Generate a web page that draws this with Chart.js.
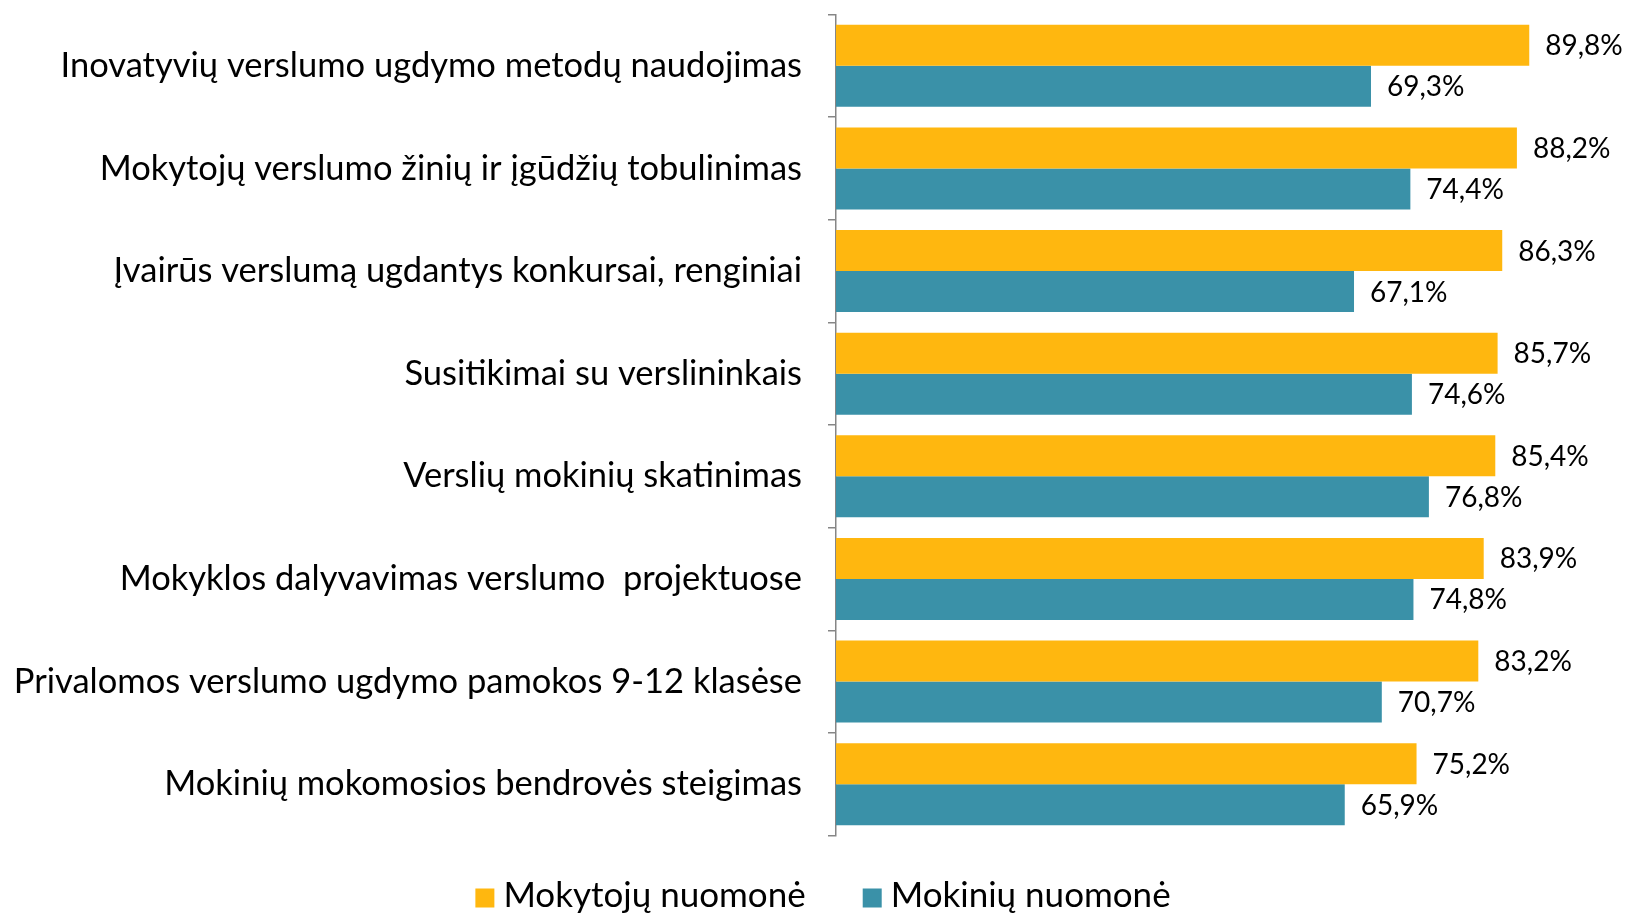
<!DOCTYPE html>
<html>
<head>
<meta charset="utf-8">
<script src="https://cdn.jsdelivr.net/npm/chart.js@4.4.1/dist/chart.umd.min.js"></script>
<style>
  html, body { margin: 0; padding: 0; background: #fff; overflow: hidden; }
  #wrap { width: 1627px; height: 914px; }
</style>
</head>
<body>
<div id="wrap"><canvas id="myBarChart" width="1627" height="914"></canvas></div>
<script>
// categories and values
const categories = [
  'Inovatyvių verslumo ugdymo metodų naudojimas',
  'Mokytojų verslumo žinių ir įgūdžių tobulinimas',
  'Įvairūs verslumą ugdantys konkursai, renginiai',
  'Susitikimai su verslininkais',
  'Verslių mokinių skatinimas',
  'Mokyklos dalyvavimas verslumo  projektuose',
  'Privalomos verslumo ugdymo pamokos 9-12 klasėse',
  'Mokinių mokomosios bendrovės steigimas'
];
const teachers = [89.8, 88.2, 86.3, 85.7, 85.4, 83.9, 83.2, 75.2];
const students = [69.3, 74.4, 67.1, 74.6, 76.8, 74.8, 70.7, 65.9];
const seriesNames = ['Mokytojų nuomonė', 'Mokinių nuomonė'];
const colors = ['#FFB70F', '#3A91A8'];

const FONT = 'Lato, "Open Sans", sans-serif';

// value labels at the end of each bar
const valueLabels = {
  id: 'valueLabels',
  afterDatasetsDraw(chart) {
    const ctx = chart.ctx;
    ctx.save();
    ctx.font = '28px ' + FONT;
    ctx.fillStyle = '#000';
    ctx.textBaseline = 'middle';
    ctx.textAlign = 'left';
    chart.data.datasets.forEach((ds, i) => {
      chart.getDatasetMeta(i).data.forEach((bar, j) => {
        const txt = ds.data[j].toFixed(1).replace('.', ',') + '%';
        ctx.fillText(txt, bar.x + 16, bar.y + 1);
      });
    });
    ctx.restore();
  }
};

// legend under the plot, centred like the original
const bottomLegend = {
  id: 'bottomLegend',
  afterDraw(chart) {
    const ctx = chart.ctx;
    const box = 19, gap = 9, itemGap = 57, midY = 898;
    ctx.save();
    ctx.font = '35px ' + FONT;
    ctx.textBaseline = 'middle';
    ctx.textAlign = 'left';
    const items = chart.data.datasets.map(ds => ({
      text: ds.label, color: ds.backgroundColor, w: ctx.measureText(ds.label).width
    }));
    let total = items.reduce((s, it) => s + box + gap + it.w, 0) + itemGap * (items.length - 1);
    let x = 823 - total / 2;
    items.forEach(it => {
      ctx.fillStyle = it.color;
      ctx.fillRect(x, midY - box / 2, box, box);
      ctx.fillStyle = '#000';
      ctx.fillText(it.text, x + box + gap, midY - 2);
      x += box + gap + it.w + itemGap;
    });
    ctx.restore();
  }
};

const barCtx = document.getElementById('myBarChart').getContext('2d');
const myBarChart = new Chart(barCtx, {
  type: 'bar',
  data: {
    labels: categories,
    datasets: [{
      label: seriesNames[0],
      data: teachers,
      backgroundColor: colors[0],
      barPercentage: 1.0,
      categoryPercentage: 0.8
    }, {
      label: seriesNames[1],
      data: students,
      backgroundColor: colors[1],
      barPercentage: 1.0,
      categoryPercentage: 0.8
    }]
  },
  options: {
    indexAxis: 'y',
    responsive: false,
    animation: false,
    layout: { padding: { top: 14.5, right: 19, left: 0, bottom: 78.5 } },
    scales: {
      x: {
        display: false,
        min: 0,
        max: 100
      },
      y: {
        afterFit: (scale) => {
          scale.width = 836;
          scale.paddingTop = 0;
          scale.paddingBottom = 0;
        },
        border: { display: true, color: '#868686', width: 1.5 },
        grid: {
          offset: true,
          drawOnChartArea: false,
          tickLength: 8,
          color: '#868686',
          lineWidth: 1.5
        },
        ticks: {
          color: '#000',
          padding: 26,
          font: { family: FONT, size: 34.5 }
        }
      }
    },
    plugins: {
      legend: { display: false },
      tooltip: { enabled: false }
    }
  },
  plugins: [valueLabels, bottomLegend]
});
</script>
</body>
</html>
